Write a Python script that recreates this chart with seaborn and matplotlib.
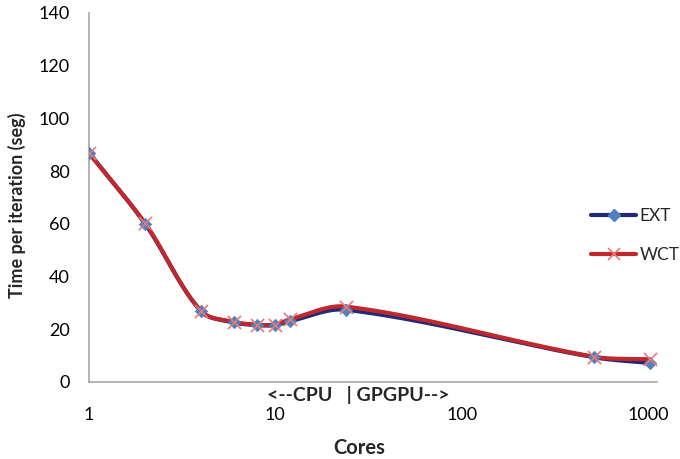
import numpy as np
import pandas as pd
import seaborn as sns
from matplotlib import pyplot as plt
from matplotlib.lines import Line2D

cores = [1, 2, 4, 6, 8, 10, 12, 24, 512, 1024]
ext = [87.0, 60.0, 26.8, 22.6, 21.6, 21.6, 23.1, 27.4, 9.4, 7.2]
wct = [86.8, 60.2, 26.8, 22.8, 21.7, 21.8, 23.8, 28.6, 9.6, 8.6]


def smooth(xs, ys, n=40, sx=186.0, sy=2.635):
    # excel style smoothed line: bezier segments, tangents scaled by segment length (screen px)
    p = np.column_stack([np.log10(np.asarray(xs, float)) * sx, np.asarray(ys, float) * sy])
    p = np.vstack([p[0], p, p[-1]])
    d = np.r_[np.hypot(*np.diff(p, axis=0).T), 0]
    t = np.linspace(0, 1, n)[:, None]
    out = []
    for i in range(1, len(p) - 2):
        p0, p3 = p[i], p[i + 1]
        a = d[i] / (d[i - 1] + d[i]) if d[i - 1] + d[i] > 0 else 0
        b = d[i] / (d[i] + d[i + 1]) if d[i] + d[i + 1] > 0 else 0
        p1 = p0 + (p[i + 1] - p[i - 1]) * a / 3
        p2 = p3 - (p[i + 2] - p[i]) * b / 3
        out.append((1 - t) ** 3 * p0 + 3 * (1 - t) ** 2 * t * p1 + 3 * (1 - t) * t ** 2 * p2 + t ** 3 * p3)
    pts = np.vstack(out)
    return 10 ** (pts[:, 0] / sx), pts[:, 1] / sy


sns.set_style("white")
plt.rcParams['font.family'] = ['Lato', 'DejaVu Sans']

fig = plt.figure(figsize=(6.8, 4.59), dpi=100)
ax = fig.add_axes([89 / 680, 1 - 382 / 459, (657 - 89) / 680, (382 - 13) / 459])

ext_col, ext_mk = '#1f2a78', '#4f81bd'
wct_col, wct_mk = '#c0282d', '#e8787a'

lx, ly = smooth(cores, ext)
sns.lineplot(x=lx, y=ly, sort=False, estimator=None, color=ext_col, lw=3, ax=ax)
lx, ly = smooth(cores, wct)
sns.lineplot(x=lx, y=ly, sort=False, estimator=None, color=wct_col, lw=3, ax=ax)

df = pd.DataFrame({'cores': cores, 'ext': ext, 'wct': wct})
sns.scatterplot(data=df, x='cores', y='ext', marker='D', s=40, color=ext_mk, edgecolor=ext_mk, zorder=3, ax=ax)
ax.scatter(df['cores'], df['wct'], marker='x', s=90, color=wct_mk, linewidths=1.2, zorder=4)

ax.set_xscale('log')
ax.set_xlim(1, 10 ** ((657 - 90) / 186))
ax.set_ylim(0, 140)
ax.set_xticks([1, 10, 100, 1000])
ax.set_xticklabels(['1', '10', '100', '1000'])
ax.minorticks_off()
ax.set_yticks(range(0, 141, 20))

for s in ['top', 'right']:
    ax.spines[s].set_visible(False)
for s in ['left', 'bottom']:
    ax.spines[s].set_color('#a6a6a6')
    ax.spines[s].set_linewidth(1.2)
ax.tick_params(axis='both', colors='#a6a6a6', length=4, width=1.2, labelsize=13,
               labelcolor='black', direction='out')
ax.tick_params(axis='x', pad=14)
ax.tick_params(axis='y', pad=10)

ax.set_xlabel('Cores', fontsize=14.5, fontweight='bold')
ax.xaxis.set_label_coords(0.475, -(438 - 382) / 369)
ax.set_ylabel('Time per iteration (seg)', fontsize=13, fontweight='bold')
ax.yaxis.set_label_coords(-(89 - 26) / 568, 0.48)
ax.text(0.474, -0.035, '<--CPU   | GPGPU-->', transform=ax.transAxes, ha='center', va='center',
        fontsize=14, fontweight='bold')

handles = [
    Line2D([], [], color=ext_col, lw=3, marker='D', markersize=6, markerfacecolor=ext_mk, markeredgecolor=ext_mk),
    Line2D([], [], color=wct_col, lw=3, marker='x', markersize=9, markeredgecolor=wct_mk, markeredgewidth=1.2),
]
fig.legend(handles, ['EXT', 'WCT'], loc='center left', bbox_to_anchor=(591 / 680, 1 - 235.5 / 459),
           frameon=False, fontsize=12.5, handlelength=2.6, handletextpad=0.2, labelspacing=1.3,
           borderpad=0, borderaxespad=0)

fig.savefig('out.png', dpi=100)
